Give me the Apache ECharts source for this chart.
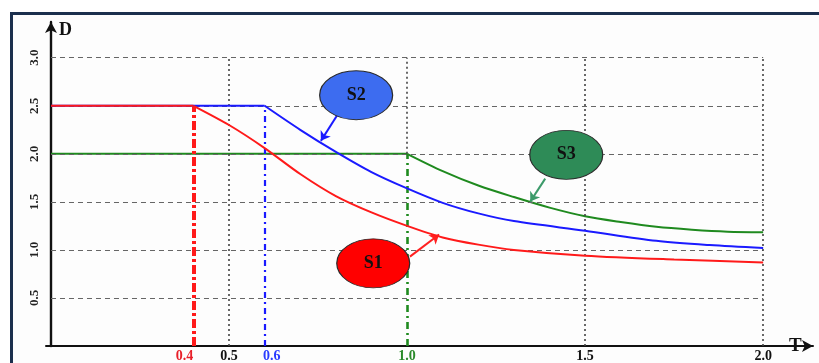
<!DOCTYPE html>
<html>
<head>
<meta charset="utf-8">
<script src="https://cdn.jsdelivr.net/npm/echarts@6/dist/echarts.min.js"></script>
<style>
  html, body { margin: 0; padding: 0; background: #ffffff; }
  #chart { width: 819px; height: 363px; }
</style>
</head>
<body>
<div id="chart"></div>
<script>
// Design spectrum D(T) for three site classes
const s1T = [0, 0.4, 0.5, 0.6, 0.7, 0.8, 0.9, 1.0, 1.1, 1.2, 1.3, 1.5, 1.75, 2.0];
const s1D = [2.5, 2.5, 2.30, 2.06, 1.79, 1.56, 1.39, 1.25, 1.13, 1.055, 1.00, 0.94, 0.90, 0.87];
const s2T = [0, 0.6, 0.7, 0.8, 0.9, 1.0, 1.1, 1.2, 1.3, 1.5, 1.7, 1.85, 2.0];
const s2D = [2.5, 2.5, 2.25, 2.02, 1.81, 1.64, 1.49, 1.38, 1.30, 1.20, 1.095, 1.05, 1.02];
const s3T = [0, 1.0, 1.1, 1.2, 1.3, 1.4, 1.5, 1.6, 1.7, 1.8, 1.9, 2.0];
const s3D = [2.0, 2.0, 1.82, 1.67, 1.55, 1.44, 1.35, 1.29, 1.24, 1.21, 1.19, 1.185];
const seriesNames = ['S1', 'S2', 'S3'];
const cornerPeriods = [0.4, 0.6, 1.0];
const xTickLabels = [0.4, 0.5, 0.6, 1.0, 1.5, 2.0];
const yTickLabels = [0.5, 1.0, 1.5, 2.0, 2.5, 3.0];
const gridX = [0.5, 1.0, 1.5, 2.0];
const gridY = [0.5, 1.0, 1.5, 2.0, 2.5, 3.0];

const SERIF = '"Liberation Serif", "DejaVu Serif", serif';
const lineColors = ['#ff1a1a', '#1a1aff', '#1f8a1f'];
const bubbleColors = ['#ff0000', '#3d6cf0', '#2e8b57'];
const arrowColors = ['#ff2020', '#1a1aff', '#3c9a6a'];
const cornerStyles = [
  { width: 4, type: [9, 3, 3, 3] },
  { width: 2.2, type: [6, 4, 2, 4] },
  { width: 2.6, type: [7, 4, 2, 4] }
];
// bubble callouts: centre of the ellipse and arrow from bubble to curve (data units)
const callouts = [
  { at: [0.905, 0.86], from: [1.008, 0.93], to: [1.09, 1.16] },
  { at: [0.857, 2.61], from: [0.806, 2.415], to: [0.758, 2.135] },
  { at: [1.447, 1.99], from: [1.388, 1.742], to: [1.346, 1.503] }
];

const spectra = [[s1T, s1D], [s2T, s2D], [s3T, s3D]];
const xMax = Math.max(...gridX);
const yMax = Math.max(...gridY);

function pairs(T, D, from, to) {
  return T.slice(from, to).map((t, i) => [t, D[from + i]]);
}
function seg(x0, y0, x1, y1, lineStyle) {
  return [{ coord: [x0, y0], lineStyle }, { coord: [x1, y1] }];
}

// background grid: dashed horizontals, dotted verticals (stopping at a plateau where a corner line starts)
const gridLines = [];
gridY.forEach(y => gridLines.push(seg(0, y, xMax, y, { color: '#666', width: 1.2, type: [5, 4] })));
gridX.forEach(x => {
  const k = cornerPeriods.findIndex(c => Math.abs(c - x) < 1e-9);
  const bottom = k >= 0 ? spectra[k][1][1] : 0;
  gridLines.push(seg(x, bottom, x, yMax, { color: '#444', width: 1.6, type: [2, 3] }));
});
// corner-period lines
const cornerLines = cornerPeriods.map((c, k) =>
  seg(c, 0, c, spectra[k][1][1], Object.assign({ color: lineColors[k] }, cornerStyles[k])));

const series = [
  {
    type: 'line', data: [], silent: true, z: 1,
    markLine: { silent: true, symbol: 'none', label: { show: false }, animation: false, data: gridLines }
  },
  {
    type: 'line', data: [], silent: true, z: 3,
    markLine: { silent: true, symbol: 'none', label: { show: false }, animation: false, data: cornerLines }
  }
];

// draw order: S3, S2, S1 so that red sits on the shared 2.5 plateau
[2, 1, 0].forEach(k => {
  const [T, D] = spectra[k];
  const ls = { color: lineColors[k], width: 2 };
  series.push({
    name: seriesNames[k], type: 'line', data: pairs(T, D, 0, 2), showSymbol: false,
    lineStyle: ls, z: 4 + (2 - k), animation: false
  });
  series.push({
    name: seriesNames[k], type: 'line', data: pairs(T, D, 1), showSymbol: false,
    smooth: 0.3, lineStyle: ls, z: 4 + (2 - k), animation: false
  });
});

// callout bubbles and arrows
callouts.forEach((c, k) => {
  series.push({
    type: 'line', data: [], silent: true, z: 10,
    markLine: {
      silent: true, symbol: ['none', 'arrow'], symbolSize: 9, animation: false,
      label: { show: false },
      data: [[{ coord: c.from, lineStyle: { color: arrowColors[k], width: 2, type: 'solid' } }, { coord: c.to }]]
    },
    markPoint: {
      silent: true, animation: false,
      data: [{
        coord: c.at, symbol: 'circle', symbolSize: [73, 49],
        itemStyle: { color: bubbleColors[k], borderColor: '#2a2a2a', borderWidth: 1 },
        label: {
          show: true, position: 'inside', formatter: seriesNames[k],
          fontFamily: SERIF, fontWeight: 'bold', fontSize: 18, color: '#111'
        }
      }]
    }
  });
});

function tickKey(v) {
  const k = cornerPeriods.findIndex(c => Math.abs(c - v) < 1e-9);
  return k >= 0 ? 'c' + k : 'k';
}

const tickFont = { fontFamily: SERIF, fontWeight: 'bold', fontSize: 14 };

const option = {
  backgroundColor: '#ffffff',
  animation: false,
  grid: { left: 46, right: 6, top: 22, bottom: 15 },
  xAxis: {
    type: 'value', min: -0.014, max: 2.14,
    splitLine: { show: false }, axisTick: { show: false },
    axisLine: {
      show: true, symbol: ['none', 'arrow'], symbolSize: [9, 11],
      lineStyle: { color: '#111', width: 2 }
    },
    axisLabel: Object.assign({
      customValues: xTickLabels, margin: 3,
      formatter: v => '{' + tickKey(v) + '|' + Number(v).toFixed(1) + '}',
      rich: {
        c0: Object.assign({ color: '#e8202a', padding: [0, 18, 0, 0] }, tickFont),
        c1: Object.assign({ color: '#2a3cff', padding: [0, 0, 0, 14] }, tickFont),
        c2: Object.assign({ color: '#2a8a2a' }, tickFont),
        k: Object.assign({ color: '#111' }, tickFont)
      }
    }, tickFont),
    name: 'T', nameLocation: 'end', nameGap: -24,
    nameTextStyle: {
      fontFamily: SERIF, fontWeight: 'bold', fontSize: 19, color: '#111',
      align: 'left', verticalAlign: 'middle', padding: [0, 0, 12, 0]
    }
  },
  yAxis: {
    type: 'value', min: 0, max: 3.372,
    splitLine: { show: false }, axisTick: { show: false },
    axisLine: {
      show: true, symbol: ['none', 'arrow'], symbolSize: [9, 11],
      lineStyle: { color: '#111', width: 2.4 }
    },
    axisLabel: Object.assign({
      customValues: yTickLabels, rotate: 90, margin: 5, color: '#222',
      formatter: v => Number(v).toFixed(1)
    }, tickFont, { fontSize: 13 }),
    name: 'D', nameLocation: 'end', nameGap: -8,
    nameTextStyle: {
      fontFamily: SERIF, fontWeight: 'bold', fontSize: 18, color: '#111',
      align: 'left', verticalAlign: 'middle', padding: [0, 0, 0, 8]
    }
  },
  graphic: [{
    type: 'rect', z: -1, silent: true,
    shape: { x: 11.5, y: 13.5, width: 900, height: 500 },
    style: { fill: '#fdfdfd', stroke: '#1b2f4d', lineWidth: 3 }
  }],
  series
};

const chart = echarts.init(document.getElementById('chart'), null, { renderer: 'canvas' });
chart.setOption(option);
</script>
</body>
</html>
